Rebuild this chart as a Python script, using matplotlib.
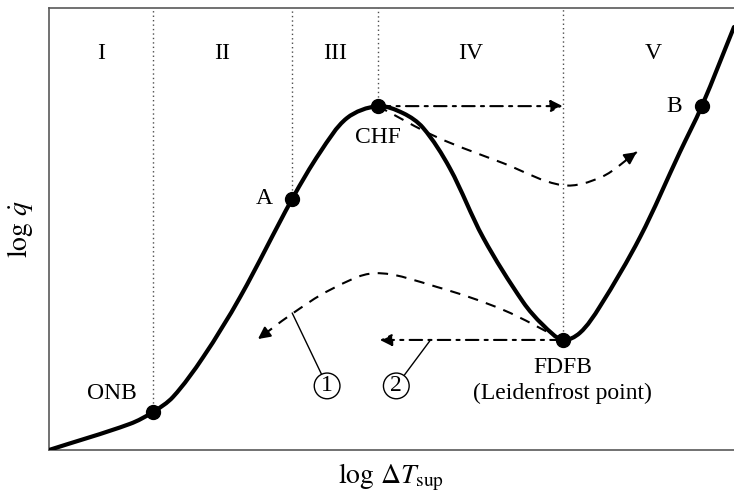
import numpy as np
import matplotlib
matplotlib.use('Agg')
import matplotlib.pyplot as plt
from matplotlib.path import Path
from matplotlib.patches import PathPatch

plt.rcParams['font.family'] = ['Liberation Serif', 'DejaVu Serif']
plt.rcParams['mathtext.fontset'] = 'stix'

# boiling curve, log dT (0..10) vs log q (0..10)
curve_x = [0.00, 1.18, 1.52, 1.81, 2.25, 2.79, 3.55, 3.96, 4.35, 4.80,
           5.17, 5.46, 5.85, 6.34, 6.92, 7.21, 7.50,
           7.75, 8.04, 8.63, 9.21, 9.53, 10.0]
curve_y = [0.00, 0.59, 0.86, 1.20, 2.10, 3.46, 5.68, 6.74, 7.51, 7.78,
           7.62, 7.29, 6.38, 4.80, 3.35, 2.83, 2.49,
           2.65, 3.24, 4.82, 6.74, 7.78, 9.57]

# marked points
pt_names = ['ONB', 'A', 'CHF', 'FDFB', 'B']
pt_x = [1.52, 3.55, 4.80, 7.50, 9.53]
pt_y = [0.86, 5.68, 7.78, 2.49, 7.78]

# dashed transition paths
path1_x = [4.80, 5.66, 6.63, 7.50, 8.07, 8.58]
path1_y = [7.78, 7.08, 6.49, 5.99, 6.18, 6.74]
path2_x = [7.50, 6.63, 5.66, 4.76, 4.10, 3.52, 3.05]
path2_y = [2.49, 3.17, 3.69, 4.00, 3.62, 3.05, 2.51]

regions = ['I', 'II', 'III', 'IV', 'V']
region_x = [0.76, 2.53, 4.18, 6.15, 8.82]


def smooth_path(xs, ys, sx=68.5, sy=44.2):
    # cubic hermite through the points (chord-length tangents), as bezier segments
    p = np.column_stack([xs, ys]) * [sx, sy]
    n = len(p)
    d = np.r_[0, np.cumsum(np.hypot(*np.diff(p, axis=0).T))]
    m = np.zeros_like(p)
    for i in range(n):
        a, b = max(i - 1, 0), min(i + 1, n - 1)
        m[i] = (p[b] - p[a]) / (d[b] - d[a])
    verts = [p[0]]
    codes = [Path.MOVETO]
    for i in range(n - 1):
        h = d[i + 1] - d[i]
        verts += [p[i] + m[i] * h / 3, p[i + 1] - m[i + 1] * h / 3, p[i + 1]]
        codes += [Path.CURVE4] * 3
    return Path(np.array(verts) / [sx, sy], codes)


fig = plt.figure(figsize=(7.34, 4.92), dpi=100)
ax = fig.add_axes([49 / 734, 42 / 492, 1 - 49 / 734, 442 / 492])
ax.set_xlim(0, 10)
ax.set_ylim(0, 10)
ax.set_xticks([])
ax.set_yticks([])
ax.spines['right'].set_visible(False)
for s in ['left', 'bottom', 'top']:
    ax.spines[s].set_color('0.35')
    ax.spines[s].set_linewidth(1.2)

# dotted region borders
for x, y in zip(pt_x[:4], pt_y[:4]):
    ax.plot([x, x], [y, 10], color='0.3', lw=1, ls=(0, (1, 2.2)), zorder=1)

ax.add_patch(PathPatch(smooth_path(curve_x, curve_y), fill=False, lw=3, color='black',
                       capstyle='round', zorder=3))
ax.plot(pt_x, pt_y, 'o', color='black', ms=10, zorder=4)

for px, py in [(path1_x, path1_y), (path2_x, path2_y)]:
    ax.add_patch(PathPatch(smooth_path(px, py), fill=False, lw=1.5, color='black',
                           ls=(0, (5, 4)), zorder=2))
    ax.annotate('', xy=(px[-1], py[-1]), xytext=(px[-2] + 0.7 * (px[-1] - px[-2]),
                                                  py[-2] + 0.7 * (py[-1] - py[-2])),
                arrowprops=dict(arrowstyle='-|>', color='black', lw=1.5,
                                mutation_scale=18, shrinkA=0, shrinkB=0))

# dash-dot horizontal jumps
ax.annotate('', xy=(7.50, 7.78), xytext=(4.80, 7.78),
            arrowprops=dict(arrowstyle='-|>', color='black', lw=1.5, ls=(0, (6, 3, 1.5, 3)),
                            mutation_scale=18, shrinkA=0, shrinkB=0))
ax.annotate('', xy=(4.83, 2.49), xytext=(7.50, 2.49),
            arrowprops=dict(arrowstyle='-|>', color='black', lw=1.5, ls=(0, (6, 3, 1.5, 3)),
                            mutation_scale=18, shrinkA=0, shrinkB=0))

fs = 17
for name, x in zip(regions, region_x):
    ax.text(x, 8.98, name, fontsize=fs, ha='center', va='center')

ax.text(0.92, 1.27, 'ONB', fontsize=fs, ha='center', va='center')
ax.text(3.14, 5.68, 'A', fontsize=fs, ha='center', va='center')
ax.text(4.80, 7.08, 'CHF', fontsize=fs, ha='center', va='center')
ax.text(9.12, 7.78, 'B', fontsize=fs, ha='center', va='center')
ax.text(7.50, 1.86, 'FDFB', fontsize=fs, ha='center', va='center')
ax.text(7.50, 1.27, '(Leidenfrost point)', fontsize=fs, ha='center', va='center')

# circled callouts
for lbl, tx, ty, lx, ly in [('1', 4.06, 1.45, 3.55, 3.10), ('2', 5.07, 1.45, 5.56, 2.47)]:
    ax.annotate(lbl, xy=(lx, ly), xytext=(tx, ty), fontsize=fs, ha='center', va='center',
                bbox=dict(boxstyle='circle,pad=0.1', fc='white', ec='black', lw=1),
                arrowprops=dict(arrowstyle='-', color='black', lw=1, shrinkA=0, shrinkB=0))

ax.set_xlabel(r'$\log\,\Delta T_{\mathrm{sup}}$', fontsize=20, labelpad=8)
ax.set_ylabel(r'$\log\,\dot{q}$', fontsize=20, labelpad=10)

fig.savefig('out.png', dpi=100)
